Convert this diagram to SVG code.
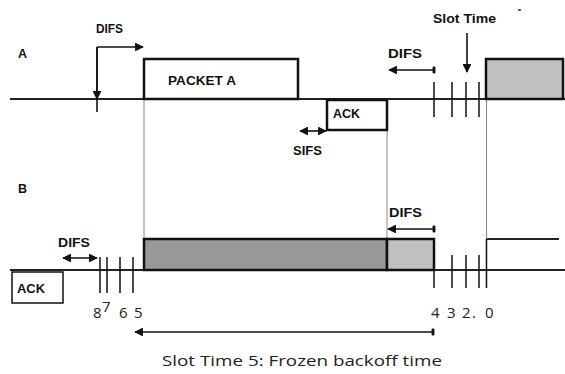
<svg xmlns="http://www.w3.org/2000/svg" width="565" height="374" viewBox="0 0 565 374">
<defs>
<marker id="ah" viewBox="0 0 10 10" refX="9" refY="5" markerWidth="5.5" markerHeight="5.5" orient="auto-start-reverse"><path d="M0,0 L10,5 L0,10 z" fill="#111"/></marker>
<marker id="tk" viewBox="0 0 4 10" refX="2" refY="5" markerWidth="2" markerHeight="4.5" orient="auto"><rect x="0" y="0" width="4" height="10" rx="1.5" fill="#111"/></marker>
</defs>
<style>
.lbl{font-family:"Liberation Sans",Arial,sans-serif;font-weight:bold;font-size:12.5px;fill:#111}
.num{font-family:"Open Sans","Liberation Sans",sans-serif;font-size:15px;fill:#222}
.base{stroke:#222;stroke-width:2;fill:none}
.box{stroke:#111;stroke-width:2.5}
.tick{stroke:#111;stroke-width:1.5}
.guide{stroke:#888;stroke-width:1}
.arr{stroke:#111;stroke-width:1.6;fill:none}
</style>
<rect width="565" height="374" fill="#fff"/>

<g id="guides">
<line class="guide" x1="144" y1="99" x2="144" y2="239"/>
<line class="guide" x1="387" y1="130" x2="387" y2="239"/>
<line class="guide" x1="486.5" y1="99" x2="486.5" y2="239"/>
</g>

<g id="timeline-A">
<text class="lbl" x="18" y="58">A</text>
<line class="base" x1="10" y1="99" x2="565" y2="99"/>
</g>
<g id="packetA">
<rect class="box" x="144" y="59" width="154" height="40" fill="#fff"/>
<text class="lbl" x="168" y="85" font-size="13" textLength="68" lengthAdjust="spacingAndGlyphs">PACKET A</text>
</g>
<g id="ackA">
<rect class="box" x="327" y="100" width="60" height="30" fill="#fff"/>
<text class="lbl" x="333" y="118" font-size="13" textLength="27" lengthAdjust="spacingAndGlyphs">ACK</text>
</g>
<g id="grayA">
<rect class="box" x="486" y="59" width="77" height="40" fill="#c0c0c0"/>
</g>
<g id="ticksA">
<line class="tick" x1="434" y1="82" x2="434" y2="117"/>
<line class="tick" x1="452" y1="82" x2="452" y2="117"/>
<line class="tick" x1="466" y1="82" x2="466" y2="117"/>
<line class="tick" x1="479" y1="82" x2="479" y2="117"/>
</g>

<g id="timeline-B">
<text class="lbl" x="18" y="193">B</text>
<line class="base" x1="10" y1="270" x2="565" y2="270"/>
<line class="base" x1="487" y1="239" x2="559" y2="239"/>
</g>
<g id="ackB">
<rect x="12" y="272" width="51" height="31" fill="#fff" stroke="#111" stroke-width="1.5"/>
<text class="lbl" x="17" y="293" textLength="28" lengthAdjust="spacingAndGlyphs">ACK</text>
</g>
<g id="busyB">
<rect class="box" x="144" y="239" width="243" height="31" fill="#999"/>
</g>
<g id="difsBoxB">
<rect class="box" x="387" y="239" width="47" height="31" fill="#c0c0c0"/>
</g>
<g id="ticksB">
<line class="tick" x1="100" y1="257" x2="100" y2="293"/>
<line class="tick" x1="107" y1="257" x2="107" y2="293"/>
<line class="tick" x1="120" y1="257" x2="120" y2="293"/>
<line class="tick" x1="133" y1="257" x2="133" y2="293"/>
<line class="tick" x1="434" y1="270" x2="434" y2="288"/>
<line class="tick" x1="452" y1="255" x2="452" y2="288"/>
<line class="tick" x1="466" y1="255" x2="466" y2="288"/>
<line class="tick" x1="479" y1="255" x2="479" y2="288"/>
<line class="tick" x1="486.5" y1="239" x2="486.5" y2="288"/>
</g>

<g id="connectors">
<line class="arr" x1="97" y1="47" x2="97" y2="112"/>
<line class="arr" x1="97" y1="47" x2="97" y2="99" marker-end="url(#ah)"/>
<line class="arr" x1="97" y1="47" x2="143" y2="47" marker-end="url(#ah)"/>
<line class="arr" x1="389" y1="70" x2="434" y2="70" marker-start="url(#ah)" marker-end="url(#tk)"/>
<line class="arr" x1="467" y1="33" x2="467" y2="72" marker-end="url(#ah)"/>
<line class="arr" x1="300" y1="131" x2="326" y2="131" marker-start="url(#ah)" marker-end="url(#ah)"/>
<line class="arr" x1="63" y1="258" x2="97" y2="258" marker-start="url(#ah)" marker-end="url(#ah)"/>
<line class="arr" x1="388" y1="229" x2="434" y2="229" marker-start="url(#ah)" marker-end="url(#tk)"/>
<line class="arr" x1="135" y1="332" x2="433" y2="332" marker-start="url(#ah)" marker-end="url(#tk)"/>
</g>

<g id="labels">
<text class="lbl" x="96" y="33" textLength="27" lengthAdjust="spacingAndGlyphs">DIFS</text>
<text class="lbl" x="388" y="58" textLength="34" lengthAdjust="spacingAndGlyphs">DIFS</text>
<text class="lbl" x="293" y="155" font-size="14" textLength="29" lengthAdjust="spacingAndGlyphs">SIFS</text>
<text class="lbl" x="433" y="23" textLength="63" lengthAdjust="spacingAndGlyphs">Slot Time</text>
<line x1="518" y1="10" x2="521" y2="10" stroke="#333" stroke-width="1.5"/>
<text class="lbl" x="58" y="247" textLength="32" lengthAdjust="spacingAndGlyphs">DIFS</text>
<text class="lbl" x="389" y="217" textLength="33" lengthAdjust="spacingAndGlyphs">DIFS</text>
<text class="num" x="93" y="318">8</text>
<text class="num" x="102" y="312" font-size="9">7</text>
<text class="num" x="119" y="318">6</text>
<text class="num" x="134" y="318">5</text>
<text class="num" x="431" y="318">4</text>
<text class="num" x="447" y="318">3</text>
<text class="num" x="462" y="318">2</text>
<text class="num" x="472" y="318">.</text>
<text class="num" x="485" y="318">0</text>
<text class="num" x="162" y="366" font-size="15" textLength="280" lengthAdjust="spacingAndGlyphs">Slot Time 5: Frozen backoff time</text>
</g>
</svg>
